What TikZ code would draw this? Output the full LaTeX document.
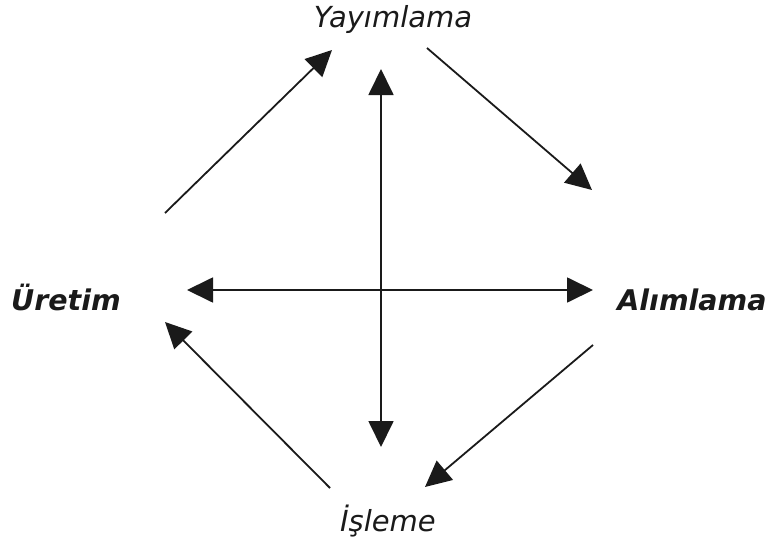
\documentclass[tikz,border=0pt]{standalone}
\usepackage{fontspec}
\setmainfont{DejaVu Sans}
\usetikzlibrary{arrows.meta}
\definecolor{ink}{HTML}{1A1A1A}
\tikzset{
  lbl/.style={anchor=base, inner sep=0pt, text=ink, font=\fontsize{29}{32}\selectfont\itshape},
  blbl/.style={lbl, font=\fontsize{28.5}{32}\selectfont\bfseries\itshape},
  conn/.style={draw=ink, line width=1.8pt, -{Triangle[length=26pt,width=25pt]}},
  dconn/.style={draw=ink, line width=1.8pt, {Triangle[length=26pt,width=25pt]}-{Triangle[length=26pt,width=25pt]}}
}
\begin{document}
\begin{tikzpicture}[x=1pt,y=-1pt]
\useasboundingbox (0,0) rectangle (771,543);
\node[lbl]  (yay) at (393,28) {Yayımlama};
\node[blbl] (ure) at (66,310) {Üretim};
\node[blbl] (alim) at (692,310) {Alımlama};
\node[lbl]  (isl) at (388,531) {İşleme};
% arrow endpoints
\coordinate (a1s) at (165,213); \coordinate (a1e) at (332,50);
\coordinate (a2s) at (427,48);  \coordinate (a2e) at (592,190);
\coordinate (a3s) at (593,345); \coordinate (a3e) at (425,487);
\coordinate (a4s) at (330,488); \coordinate (a4e) at (165,322);
\coordinate (vt) at (381,69);   \coordinate (vb) at (381,447);
\coordinate (hl) at (187,290);  \coordinate (hr) at (593,290);
\draw[conn] (a1s) -- (a1e);
\draw[conn] (a2s) -- (a2e);
\draw[conn] (a3s) -- (a3e);
\draw[conn] (a4s) -- (a4e);
\draw[dconn] (vt) -- (vb);
\draw[dconn] (hl) -- (hr);
\end{tikzpicture}
\end{document}
